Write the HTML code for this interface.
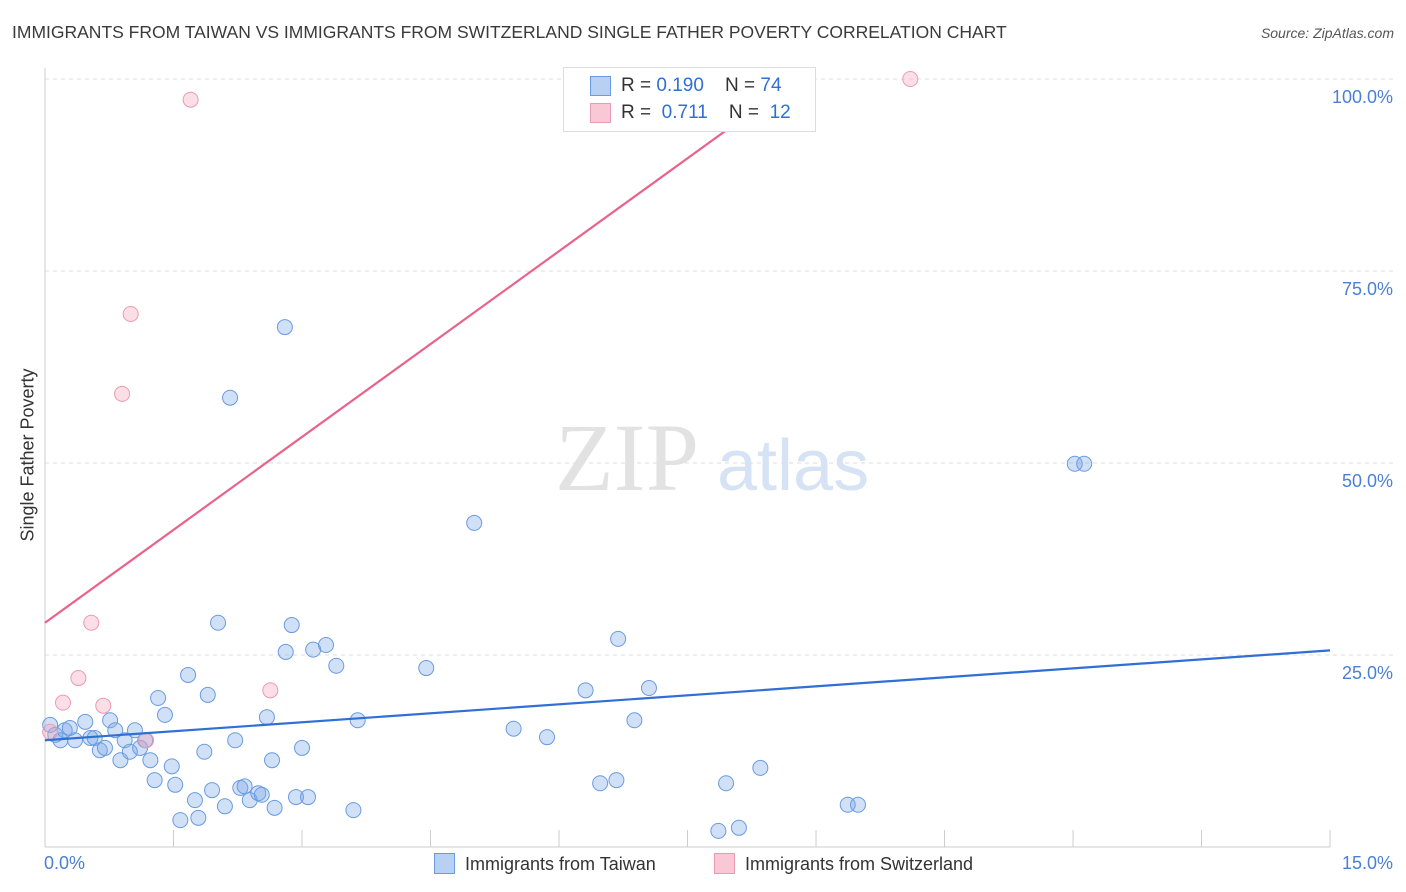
<!DOCTYPE html>
<html><head><meta charset="utf-8"><style>
body{margin:0;background:#fff;font-family:"Liberation Sans",sans-serif;}
#wrap{position:relative;width:1406px;height:892px;overflow:hidden;}
.t{position:absolute;white-space:nowrap;}
</style></head><body>
<div id="wrap">
<div class="t" style="left:12px;top:22px;font-size:17.5px;color:#3a3a3a;">IMMIGRANTS FROM TAIWAN VS IMMIGRANTS FROM SWITZERLAND SINGLE FATHER POVERTY CORRELATION CHART</div>
<div class="t" style="right:12px;top:25px;font-size:14px;color:#555;font-style:italic;">Source: ZipAtlas.com</div>
<svg id="plot" width="1406" height="892" style="position:absolute;left:0;top:0"></svg>
</div>
<script>
const taiwanX=[0.06,0.12,0.18,0.23,0.29,0.35,0.47,0.53,0.58,0.64,0.70,0.76,0.82,0.88,0.93,0.99,1.05,1.11,1.17,1.23,1.28,1.32,1.40,1.48,1.52,1.58,1.67,1.75,1.79,1.86,1.90,1.95,2.02,2.10,2.16,2.22,2.28,2.33,2.39,2.49,2.53,2.59,2.65,2.68,2.80,2.81,2.88,2.93,3.00,3.07,3.13,3.28,3.40,3.60,3.65,4.45,5.01,5.47,5.86,6.31,6.48,6.67,6.69,6.88,7.05,7.86,7.95,8.10,8.35,9.37,9.49,12.02,12.13];
const taiwanY=[15.9,14.6,13.9,15.2,15.5,13.9,16.3,14.2,14.2,12.6,12.9,16.5,15.2,11.3,13.9,12.4,15.2,12.9,13.9,11.3,8.7,19.4,17.2,10.5,8.1,3.5,22.4,6.1,3.8,12.4,19.8,7.4,29.2,5.3,58.5,13.9,7.7,7.9,6.1,7.0,6.8,16.9,11.3,5.1,67.7,25.4,28.9,6.5,12.9,6.5,25.7,26.3,23.6,4.8,16.5,23.3,42.2,15.4,14.3,20.4,8.3,8.7,27.1,16.5,20.7,2.1,8.3,2.5,10.3,5.5,5.5,49.9,49.9];
const swissX=[0.06,0.21,0.39,0.54,0.68,0.90,1.00,1.18,1.70,2.63,10.10];
const swissY=[15.0,18.8,22.0,29.2,18.4,59.0,69.4,13.9,97.3,20.4,100];
const taiwanTrend=[[0,13.9],[15,25.6]];
const swissTrend=[[0,29.2],[8.78,100]];
const yTicks=[25,50,75,100];
const yTickLabels=["25.0%","50.0%","75.0%","100.0%"];
const xTicks=[0,1.5,3,4.5,6,7.5,9,10.5,12,13.5,15];

const X=v=>45+v*85.67, Y=v=>847-v*7.68;
const svg=document.getElementById('plot');
const NS='http://www.w3.org/2000/svg';
function mk(tag,attrs,parent){const e=document.createElementNS(NS,tag);for(const k in attrs)e.setAttribute(k,attrs[k]);(parent||svg).appendChild(e);return e;}

yTicks.forEach((t,i)=>{
 const g=mk('line',{x1:45,x2:1395,y1:Y(t),y2:Y(t),stroke:'#ddd','stroke-dasharray':'4,4'});
 
 
 const tx=mk('text',{x:1393,y:Y(t)+24,'text-anchor':'end','font-size':18,fill:'#4a7fd4','font-family':'Liberation Sans'});
 tx.textContent=yTickLabels[i];
 
 
});
const ax=mk('line',{x1:45,x2:45,y1:68,y2:847,stroke:'#ccc'});


const bx=mk('line',{x1:45,x2:1330,y1:847,y2:847,stroke:'#ccc'});


xTicks.forEach(t=>{
 const l=mk('line',{x1:X(t),x2:X(t),y1:830,y2:847,stroke:'#ccc'});
 
 
});
const wm1=mk('text',{x:555,y:490,'font-size':96,fill:'#e2e2e2','font-family':'Liberation Serif'});wm1.textContent='ZIP';


const wm2=mk('text',{x:717,y:490,'font-size':72,fill:'#d6e3f5','font-family':'Liberation Sans'});wm2.textContent='atlas';



taiwanX.forEach((x,i)=>{
 const c=mk('circle',{cx:X(x),cy:Y(taiwanY[i]),r:7.5,fill:'rgba(120,165,230,0.35)',stroke:'#6a9be0','stroke-width':1});
 
 
});
swissX.forEach((x,i)=>{
 const c=mk('circle',{cx:X(x),cy:Y(swissY[i]),r:7.5,fill:'rgba(245,160,185,0.35)',stroke:'#ec9ab4','stroke-width':1});
 
 
});
const l1=mk('line',{x1:X(taiwanTrend[0][0]),y1:Y(taiwanTrend[0][1]),x2:X(taiwanTrend[1][0]),y2:Y(taiwanTrend[1][1]),stroke:'#2f6fd6','stroke-width':2.2});


const l2=mk('line',{x1:X(swissTrend[0][0]),y1:Y(swissTrend[0][1]),x2:X(swissTrend[1][0]),y2:Y(swissTrend[1][1]),stroke:'#e8628c','stroke-width':2.2});


</script>
<div class="t" style="left:28px;top:455px;transform:translate(-50%,-50%) rotate(-90deg);font-size:18px;color:#333;">Single Father Poverty</div>
<div class="t" style="left:44px;top:853px;font-size:18px;color:#4a7fd4;">0.0%</div>
<div class="t" style="right:13px;top:853px;font-size:18px;color:#4a7fd4;">15.0%</div>
<div style="position:absolute;left:563px;top:67px;width:251px;height:63px;border:1px solid #ddd;background:#fff;font-size:19px;color:#333;">
 <div style="position:absolute;left:26px;top:8px;width:19px;height:18px;background:#b8d0f3;border:1px solid #6a9be0"></div>
 <div class="t" style="left:57px;top:7px">R = <span style="color:#2f6fd6">0.190</span>&nbsp;&nbsp;&nbsp; N = <span style="color:#2f6fd6">74</span></div>
 <div style="position:absolute;left:26px;top:35px;width:19px;height:18px;background:#f8c8d6;border:1px solid #ec9ab4"></div>
 <div class="t" style="left:57px;top:34px">R = &nbsp;<span style="color:#2f6fd6">0.711</span>&nbsp;&nbsp;&nbsp; N = &nbsp;<span style="color:#2f6fd6">12</span></div>
</div>
<div style="position:absolute;left:434px;top:853px;font-size:18px;color:#333;">
 <span style="display:inline-block;width:19px;height:19px;background:#b8d0f3;border:1px solid #6a9be0;vertical-align:-4px;margin-right:10px"></span>Immigrants from Taiwan</div>
<div style="position:absolute;left:714px;top:853px;font-size:18px;color:#333;">
 <span style="display:inline-block;width:19px;height:19px;background:#f8c8d6;border:1px solid #ec9ab4;vertical-align:-4px;margin-right:10px"></span>Immigrants from Switzerland</div>
</body></html>
